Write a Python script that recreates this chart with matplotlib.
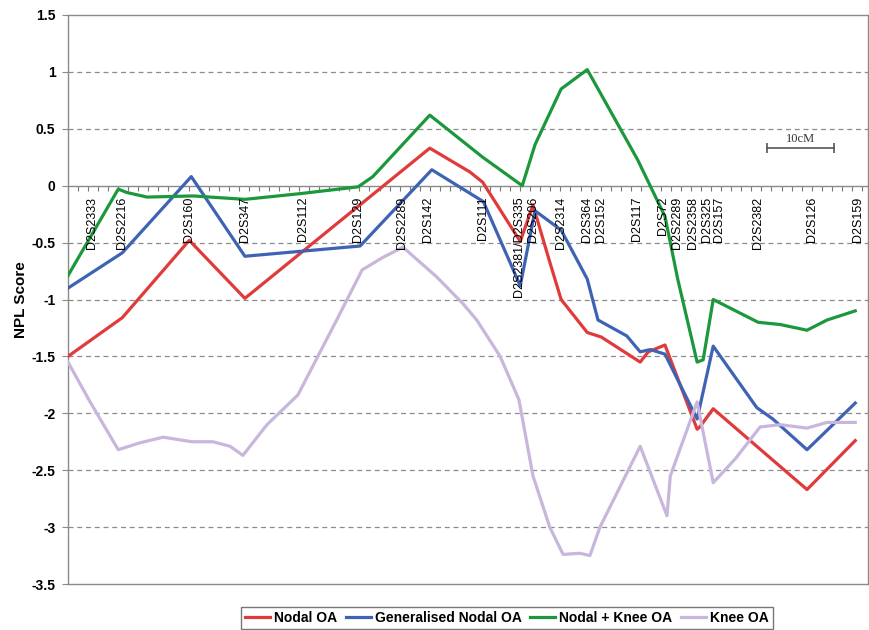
import numpy as np
import matplotlib
matplotlib.use("Agg")
import matplotlib.pyplot as plt
from matplotlib.lines import Line2D

plt.rcParams['font.family'] = ['Liberation Sans', 'DejaVu Sans']

# ---- data (x in cM, y = NPL score) ----
red_x = [0, 8.1, 18.1, 26.4, 54.0, 60.0, 61.9, 67.5, 69.4, 71.9, 73.6, 77.5, 79.6,
         85.4, 86.6, 89.1, 93.9, 94.3, 96.3, 102.8, 110.3, 117.5]
red_y = [-1.5, -1.16, -0.48, -0.99, 0.33, 0.12, 0.03, -0.49, -0.17, -0.67, -1.0, -1.29,
         -1.33, -1.55, -1.46, -1.40, -2.14, -2.12, -1.96, -2.29, -2.67, -2.24]

blue_x = [0, 8.1, 18.4, 26.4, 43.6, 54.3, 62.0, 67.5, 69.7, 73.6, 77.5, 79.1, 83.4,
          85.4, 86.9, 89.1, 93.9, 96.3, 102.8, 105.2, 110.3, 117.5]
blue_y = [-0.9, -0.59, 0.08, -0.62, -0.53, 0.14, -0.14, -0.88, -0.22, -0.39, -0.82,
          -1.18, -1.32, -1.46, -1.44, -1.48, -2.05, -1.41, -1.95, -2.05, -2.32, -1.91]

green_x = [0, 7.5, 8.8, 11.8, 18.7, 26.4, 34.6, 43.3, 45.5, 54.0, 61.9, 67.8, 69.7,
           73.6, 77.5, 85.0, 89.1, 91.0, 93.9, 94.8, 96.3, 103.0, 106.3, 110.3, 113.3, 117.5]
green_y = [-0.79, -0.03, -0.06, -0.10, -0.09, -0.12, -0.07, -0.01, 0.08, 0.62, 0.25, 0.0,
           0.36, 0.85, 1.02, 0.23, -0.27, -0.82, -1.55, -1.53, -1.0, -1.2, -1.22, -1.27,
           -1.18, -1.1]

lav_x = [0, 3.3, 7.5, 10.7, 14.2, 18.5, 21.6, 24.2, 26.1, 29.7, 34.3, 40.1, 43.9, 47.0, 50.0,
         55.0, 59.0, 61.0, 64.5, 67.3, 69.4, 71.9, 73.9, 76.4, 77.9, 79.4, 85.4, 89.4, 89.9,
         93.9, 96.3, 99.6, 103.3, 106.3, 110.3, 113.3, 117.5]
lav_y = [-1.55, -1.9, -2.32, -2.26, -2.21, -2.25, -2.25, -2.29, -2.37, -2.1, -1.84, -1.18,
         -0.74, -0.63, -0.54, -0.80, -1.04, -1.18, -1.5, -1.88, -2.55, -3.0, -3.24, -3.23,
         -3.25, -3.0, -2.29, -2.9, -2.55, -1.9, -2.61, -2.4, -2.12, -2.1, -2.13, -2.08, -2.08]

marker_names = ["D2S2333", "D2S2216", "D2S160", "D2S347", "D2S112", "D2S129", "D2S2289",
                "D2S142", "D2S111", "D2S2381/D2S335", "D2S206", "D2S2314", "D2S364",
                "D2S152", "D2S117", "D2S72", "D2S2289", "D2S2358", "D2S325", "D2S157",
                "D2S2382", "D2S126", "D2S159"]
marker_pos = [3.6, 8.1, 18.1, 26.4, 35.1, 43.3, 49.9, 53.7, 61.9, 67.3, 69.4, 73.6, 77.5,
              79.6, 84.9, 88.8, 90.9, 93.3, 95.4, 97.2, 103.0, 111.0, 117.9]

series_names = ["Nodal OA", "Generalised Nodal OA", "Nodal + Knee OA", "Knee OA"]
colors = ["#e03a3a", "#3f63b4", "#1b983c", "#c8b6dd"]

y_ticks = [1.5, 1, 0.5, 0, -0.5, -1, -1.5, -2, -2.5, -3, -3.5]
scale_bar = [104.3, 114.3]

# ---- figure ----
fig = plt.figure(figsize=(8.7, 6.3), dpi=100)
ax = fig.add_axes([68/870, 1 - 584/630, 800/870, (584 - 15)/630])
xmin, xmax = 0, 800/6.7
ymin, ymax = -3.5, 1.5
ax.set_xlim(xmin, xmax)
ax.set_ylim(ymin, ymax)

for sp in ax.spines.values():
    sp.set_color("#8a8a8a")
    sp.set_linewidth(1.0)

# grid lines
for t in y_ticks:
    if t in (ymin, ymax, 0):
        continue
    ax.axhline(t, color="#8c8c8c", lw=0.9, ls=(0, (4, 3)), zorder=1)

# y=0 axis line with ticks
ax.axhline(0, color="#8a8a8a", lw=1.0, zorder=2)
loc = (0 - ymin) / (ymax - ymin)
sec = ax.secondary_xaxis(loc)
sec.set_xticks(np.arange(0, xmax, 1.5))
sec.tick_params(direction="out", length=3.5, width=0.8, color="#777777", labelbottom=False,
                labeltop=False, bottom=True, top=False)
for sp in sec.spines.values():
    sp.set_visible(False)

ax.set_xticks([])
ax.set_yticks(y_ticks)
ax.set_yticklabels([f"{t:g}" for t in y_ticks], fontsize=10, fontweight="bold")
ax.tick_params(axis="y", length=4, color="#8a8a8a", pad=5)
ax.set_ylabel("NPL Score", fontsize=11, fontweight="bold")
ax.yaxis.set_label_coords(-40/800, 0.5)

# lines
data = [(red_x, red_y), (blue_x, blue_y), (green_x, green_y), (lav_x, lav_y)]
for (xs, ys), c, n in zip(data, colors, series_names):
    ax.plot(xs, ys, color=c, lw=2.3, label=n, zorder=3, solid_joinstyle="round")

# marker labels
for name, pos in zip(marker_names, marker_pos):
    ax.annotate(name, xy=(pos, 0), xytext=(0, -11), textcoords="offset pixels",
                rotation=90, ha="center", va="top", fontsize=9, zorder=4)

# scale bar
ax.plot(scale_bar, [0.33, 0.33], color="#555555", lw=1.2, marker="|", ms=7, mew=1.2)
ax.text(np.mean(scale_bar), 0.36, "10cM", ha="center", va="bottom", fontsize=9,
        family=["Liberation Serif", "DejaVu Serif"], color="#333333")

# legend
handles = [Line2D([0], [0], color=c, lw=2.3) for c in colors]
leg = fig.legend(handles, series_names, loc="center", bbox_to_anchor=(507/870, 1 - 618/630),
                 ncol=4, frameon=True, fancybox=False, handlelength=1.8, handletextpad=0.3,
                 columnspacing=0.6, borderpad=0.3, prop={"weight": "bold", "size": 10})
leg.get_frame().set_edgecolor("#555555")
leg.get_frame().set_linewidth(1.0)

fig.savefig("out.png", dpi=100)
